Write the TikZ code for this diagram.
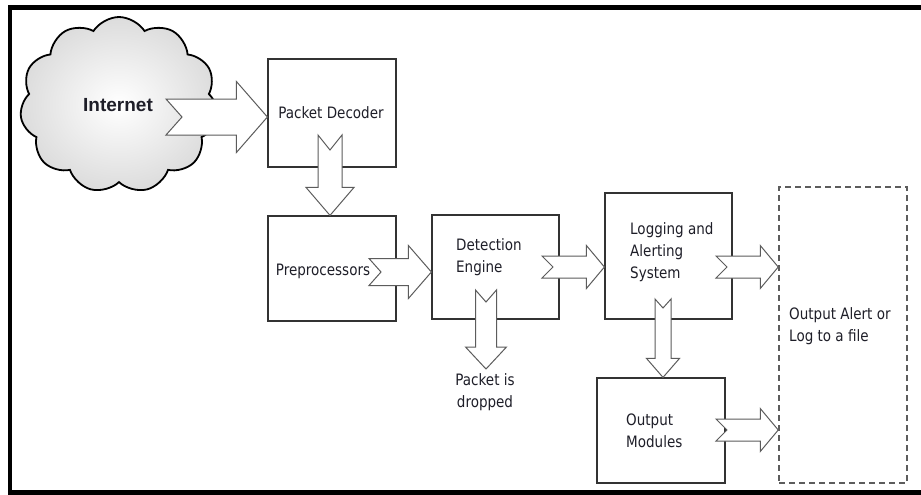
\documentclass[tikz,border=0pt]{standalone}
\usepackage{fontspec}
\setmainfont{DejaVu Sans}[FakeStretch=0.86]
\newfontfamily\cloudfont{Liberation Sans}
\usetikzlibrary{shapes.symbols,calc}

\definecolor{boxline}{HTML}{333333}
\definecolor{arrowline}{HTML}{5C5C5C}
\definecolor{ink}{HTML}{1E1E28}
\definecolor{cloudedge}{HTML}{DCDCDC}

% Notched block arrow pointing right: tail point, tip point,
% shaft half width, head half width, head length, notch depth
\newcommand\rfat[6]{%
  \draw[fatarrow] let \p1=(#1), \p2=(#2) in
    (\x1,\y2+#3) -- (\x2-#5,\y2+#3) -- (\x2-#5,\y2+#4) -- (\x2,\y2)
    -- (\x2-#5,\y2-#4) -- (\x2-#5,\y2-#3) -- (\x1,\y2-#3) -- (\x1+#6,\y2) -- cycle;}
% Same, pointing down
\newcommand\dfat[6]{%
  \draw[fatarrow] let \p1=(#1), \p2=(#2) in
    (\x2-#3,\y1) -- (\x2-#3,\y2+#5) -- (\x2-#4,\y2+#5) -- (\x2,\y2)
    -- (\x2+#4,\y2+#5) -- (\x2+#3,\y2+#5) -- (\x2+#3,\y1) -- (\x2,\y1-#6) -- cycle;}

\tikzset{
  frameline/.style={line width=4.5pt, line join=miter},
  stagebox/.style={draw=boxline, line width=1.2pt, fill=white, inner sep=0pt},
  outbox/.style={draw=arrowline, line width=1.5pt, dash pattern=on 6pt off 4pt, inner sep=0pt},
  fatarrow/.style={draw=arrowline, line width=1pt, fill=white, line join=miter},
  lbl/.style={text=ink, inner sep=0pt, font=\fontsize{15.7}{21.7}\selectfont},
  netcloud/.style={cloud, cloud puffs=11, cloud puff arc=115, aspect=1.1,
    draw=black, line width=1.8pt, shading=radial, inner color=white, outer color=cloudedge,
    minimum width=198pt, minimum height=176pt, inner sep=0pt}
}

\begin{document}
\begin{tikzpicture}[x=1pt,y=-1pt]
\useasboundingbox (0,0) rectangle (921,495);
\fill[white] (0,0) rectangle (921,495);
\draw[frameline] (921,7.5) -- (10,7.5) -- (10,492.5) -- (921,492.5);

% cloud and stage boxes
\node[netcloud] (net) at (119,105) {};
\node[stagebox, minimum width=128pt, minimum height=108pt] (pd)  at (332,113) {};
\node[stagebox, minimum width=128pt, minimum height=105pt] (pre) at (332,268.5) {};
\node[stagebox, minimum width=127pt, minimum height=104pt] (de)  at (495.5,267) {};
\node[stagebox, minimum width=127pt, minimum height=126pt] (la)  at (668.5,256) {};
\node[stagebox, minimum width=128pt, minimum height=105pt] (om)  at (661,430.5) {};
\node[outbox,   minimum width=128pt, minimum height=296pt] (out) at (843,335) {};

% block arrows
\coordinate (t1) at (166,117);
\rfat{t1}{pd.west |- t1}{18pt}{35.5pt}{31pt}{16pt}
\coordinate (t2) at (330,135);
\dfat{t2}{t2 |- pre.north}{12pt}{24pt}{28pt}{15pt}
\coordinate (t3) at (369,272);
\rfat{t3}{de.west |- t3}{13.5pt}{26.5pt}{23pt}{12pt}
\coordinate (t4) at (542,267);
\rfat{t4}{la.west |- t4}{11pt}{21.5pt}{18pt}{11pt}
\coordinate (t5) at (486,290);
\coordinate (drop) at (486,369);
\dfat{t5}{drop}{10.5pt}{20.5pt}{22pt}{12pt}
\coordinate (t6) at (716,267);
\rfat{t6}{out.west |- t6}{11pt}{21.5pt}{18pt}{11pt}
\coordinate (t7) at (663,299);
\dfat{t7}{t7 |- om.north}{8pt}{16.5pt}{19pt}{9pt}
\coordinate (t8) at (716,430);
\rfat{t8}{out.west |- t8}{11pt}{21.5pt}{18pt}{11pt}

% labels
\node[text=ink, inner sep=0pt, font=\cloudfont\bfseries\fontsize{19}{22}\selectfont] (netl) at (118,105) {Internet};
\node[lbl] (pdl) at (331,113) {Packet Decoder};
\node[lbl] (prel) at (323,271) {Preprocessors};
\node[lbl, anchor=west, align=left] (del) at (456,257) {Detection\\Engine};
\node[lbl, anchor=west, align=left] (lal) at (630,252) {Logging and\\Alerting\\System};
\node[lbl, anchor=west, align=left] (oml) at (626,431) {Output\\Modules};
\node[lbl, anchor=west, align=left] (outl) at (789,326) {Output Alert or\\Log to a file};
\node[lbl, align=center] (dropl) at (485,392) {Packet is\\dropped};
\end{tikzpicture}
\end{document}
